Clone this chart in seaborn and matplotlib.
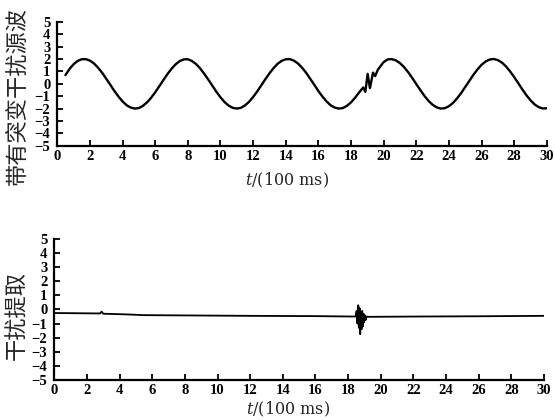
import numpy as np
import pandas as pd
import matplotlib
matplotlib.use("Agg")
import matplotlib.pyplot as plt
import seaborn as sns

sns.set_theme(style="ticks")
plt.rcParams['font.family'] = ['Liberation Serif', 'DejaVu Sans']
plt.rcParams['mathtext.fontset'] = 'custom'
plt.rcParams['mathtext.it'] = 'DejaVu Serif:italic'
plt.rcParams['mathtext.rm'] = 'DejaVu Serif'

# ---- data: top panel (source wave with sudden disturbance) ----
t_base = np.arange(0.5, 30.01, 0.25)
y_base = [
    0.70, 1.20, 1.58, 1.85, 1.98, 1.99, 1.87, 1.64, 1.30, 0.89,
    0.41, -0.08, -0.58, -1.03, -1.42, -1.73, -1.92, -2.00, -1.96, -1.78,
    -1.50, -1.13, -0.69, -0.20, 0.30, 0.78, 1.21, 1.57, 1.83, 1.97,
    1.98, 1.84, 1.60, 1.25, 0.82, 0.35, -0.15, -0.64, -1.09, -1.47,
    -1.76, -1.94, -2.00, -1.94, -1.75, -1.46, -1.07, -0.62, -0.13, 0.37,
    0.84, 1.26, 1.61, 1.85, 1.98, 1.99, 1.87, 1.64, 1.30, 0.89,
    0.41, -0.08, -0.58, -1.03, -1.42, -1.73, -1.92, -2.00, -1.96, -1.78,
    -1.50, -1.13, -0.69, -0.20, 0.30, 0.78, 1.21, 1.57, 1.83, 1.97,
    1.99, 1.89, 1.67, 1.35, 0.94, 0.48, -0.02, -0.51, -0.97, -1.38,
    -1.69, -1.90, -2.00, -1.97, -1.81, -1.55, -1.18, -0.75, -0.26, 0.23,
    0.72, 1.16, 1.53, 1.80, 1.96, 2.00, 1.91, 1.71, 1.40, 1.00,
    0.54, 0.05, -0.45, -0.92, -1.33, -1.66, -1.88, -1.99, -1.98,
]
t_glitch = [18.75, 18.88, 19.02, 19.16, 19.35, 19.48, 19.65, 20.0]
y_glitch = [-0.30, -0.65, 0.80, -0.35, 0.90, 0.62, 1.15, 1.75]

# ---- data: bottom panel (extracted disturbance) ----
t_ext = [0.0, 2.8, 2.9, 3.0, 4.5, 5.5, 8.0, 12.0, 16.0, 18.45,
         18.52, 18.57, 18.62, 18.66, 18.70, 18.74, 18.78, 18.82, 18.86, 18.90,
         18.94, 18.98, 19.02, 19.07, 19.12, 19.2, 22.0, 26.0, 30.0]
y_ext = [-0.25, -0.28, -0.15, -0.30, -0.35, -0.40, -0.42, -0.45, -0.47, -0.50,
         -0.10, -1.00, 0.30, -1.30, 0.10, -1.75, -0.20, -1.40, -0.10, -1.20,
         -0.30, -0.90, -0.40, -0.75, -0.50, -0.52, -0.50, -0.48, -0.45]

x_ticks = [0, 2, 4, 6, 8, 10, 12, 14, 16, 18, 20, 22, 24, 26, 28, 30]
y_ticks = [5, 4, 3, 2, 1, 0, -1, -2, -3, -4, -5]
ylabel_top = "带有突变干扰源波"
ylabel_bot = "干扰提取"
xlabel = "$t$/(100 ms)"

# merge glitch into base wave
t_base = list(t_base)
keep = [(t, y) for t, y in zip(t_base, y_base) if not (18.7 < t < 20.1)]
pts = sorted(keep + list(zip(t_glitch, y_glitch)))
df_top = pd.DataFrame(pts, columns=["t", "y"])
df_bot = pd.DataFrame({"t": t_ext, "y": y_ext})

fig = plt.figure(figsize=(5.54, 4.2), dpi=100)
ax1 = fig.add_axes([0.1034, 0.653, 0.8836, 0.295])
ax2 = fig.add_axes([0.098, 0.0952, 0.884, 0.3358])

sns.lineplot(data=df_top, x="t", y="y", ax=ax1, color="black", lw=1.7,
             estimator=None, sort=False)
sns.lineplot(data=df_bot, x="t", y="y", ax=ax2, color="black", lw=1.3,
             estimator=None, sort=False)

for ax, lab in ((ax1, ylabel_top), (ax2, ylabel_bot)):
    ax.set_xlim(0, 30)
    ax.set_ylim(-5, 5)
    ax.set_xticks(x_ticks)
    ax.set_yticks(y_ticks)
    ax.set_xticklabels([str(v) for v in x_ticks], fontsize=10.5, fontweight="bold")
    ax.set_yticklabels([str(v).replace("-", "\u2212") for v in y_ticks],
                       fontsize=10.5, fontweight="bold")
    ax.tick_params(direction="in", length=4.5, width=1.3, pad=3, colors="black")
    ax.tick_params(axis="y", pad=5)
    for s in ("top", "right"):
        ax.spines[s].set_visible(False)
    for s in ("left", "bottom"):
        ax.spines[s].set_linewidth(1.6)
        ax.spines[s].set_color("black")
    ax.set_ylabel(lab, family=["Noto Sans CJK SC", "DejaVu Sans"], fontsize=16)
    ax.set_xlabel(xlabel, fontsize=11.5, family="DejaVu Serif")
    ax.set_facecolor("white")

ax1.yaxis.set_label_coords(-0.058, 0.40)
ax2.yaxis.set_label_coords(-0.052, 0.46)
ax1.xaxis.set_label_coords(0.47, -0.20)
ax2.xaxis.set_label_coords(0.477, -0.14)

fig.savefig("out.png", dpi=100, facecolor="white")
